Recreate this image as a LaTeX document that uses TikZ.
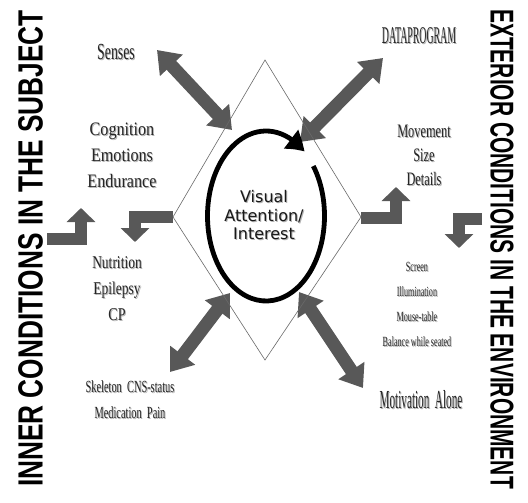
\documentclass[tikz,border=0pt]{standalone}
\usepackage{fontspec}
\setmainfont{Liberation Serif}
\newfontfamily\vsans{DejaVu Sans}
\newfontfamily\asans{Liberation Sans}
\usetikzlibrary{arrows.meta,bending}
\definecolor{arrgray}{RGB}{88,88,88}
\definecolor{linegray}{RGB}{105,105,105}
\newcommand\shd[1]{\leavevmode\rlap{\kern1pt\raisebox{-1pt}{\textcolor{black!30}{#1}}}#1}
\newcommand\lab[2]{\shd{\scalebox{#1}[1]{#2}}}
\tikzset{
  blockarr/.style={line width=13pt, draw=arrgray,
    {Triangle[length=21pt,width=30pt]}-{Triangle[length=21pt,width=30pt]}},
  elbowarr/.style={line width=12pt, draw=arrgray, line join=miter,
    -{Triangle[length=14pt,width=28pt]}},
  lbl/.style={align=center, inner sep=0pt, text=black!85},
  vlabel/.style={inner sep=0pt, font=\asans, text=black}
}
\begin{document}
\begin{tikzpicture}[x=1pt,y=-1pt]
\fill[white] (0,0) rectangle (528,503);
\useasboundingbox (0,0) rectangle (528,503);

% coordinates
\coordinate (dtop) at (265,60);
\coordinate (dleft) at (173,217);
\coordinate (dright) at (361,217);
\coordinate (dbot) at (265,360);
\coordinate (ec) at (266,216);

\coordinate (senA) at (157,50);  \coordinate (senB) at (232,130);
\coordinate (datA) at (383,58);  \coordinate (datB) at (300,142);
\coordinate (llA) at (170,372);  \coordinate (llB) at (230,293);
\coordinate (lrA) at (363,388);  \coordinate (lrB) at (299,292);

\coordinate (flS) at (47,239);   \coordinate (flT) at (81,208);
\coordinate (liT) at (135,242);
\coordinate (riT) at (396,187);
\coordinate (frS) at (482,219);  \coordinate (frT) at (459,248);

% block arrows
\draw[blockarr] (senA) -- (senB);
\draw[blockarr] (datA) -- (datB);
\draw[blockarr] (llA) -- (llB);
\draw[blockarr] (lrA) -- (lrB);

% elbow arrows
\draw[elbowarr] (flS) -| (flT);
\draw[elbowarr] (dleft) -| (liT);
\draw[elbowarr] ([yshift=-1pt]dright) -| (riT);
\draw[elbowarr] (frS) -| (frT);

% diamond
\draw[linegray, line width=0.6pt] (dtop) -- (dright) -- (dbot) -- (dleft) -- cycle;

% circular arrow
\draw[line width=4.8pt, -{Triangle[length=19pt,width=22pt,bend]}]
  (ec) ++(-36:58.5 and 85) arc[start angle=-36, end angle=311, x radius=58.5, y radius=85];

\node[align=center, inner sep=0pt, font=\vsans\fontsize{16}{18.5}\selectfont, text=black!90] (vis) at (264,216)
  {\shd{Visual}\\\shd{Attention/}\\\shd{Interest}};

% labels
\node[lbl, font=\fontsize{23}{26}\selectfont] (senses) at (116,52) {\lab{0.6}{Senses}};
\node[lbl, font=\fontsize{24}{26}\selectfont] (data) at (419,36) {\lab{0.41}{DATAPROGRAM}};
\node[lbl, font=\fontsize{19}{26}\selectfont] (cog) at (122,156)
  {\lab{0.85}{Cognition}\\\lab{0.85}{Emotions}\\\lab{0.85}{Endurance}};
\node[lbl, font=\fontsize{19}{24}\selectfont] (mov) at (424,156)
  {\lab{0.65}{Movement}\\\lab{0.65}{Size}\\\lab{0.65}{Details}};
\node[lbl, font=\fontsize{18}{26}\selectfont] (nut) at (117,289)
  {\lab{0.75}{Nutrition}\\\lab{0.75}{Epilepsy}\\\lab{0.78}{CP}};
\node[lbl, font=\fontsize{17}{26}\selectfont] (skel) at (130,400)
  {\lab{0.61}{Skeleton\ \ CNS-status}\\\lab{0.61}{Medication\ \ Pain}};
\node[lbl, font=\fontsize{14}{25}\selectfont] (scr) at (417,305)
  {\lab{0.58}{Screen}\\\lab{0.58}{Illumination}\\\lab{0.58}{Mouse-table}\\\lab{0.58}{Balance while seated}};
\node[lbl, font=\fontsize{26}{28}\selectfont] (mot) at (421,400) {\lab{0.43}{Motivation\ \ Alone}};

% vertical titles
\node[vlabel, rotate=90, font=\asans\bfseries\fontsize{35}{35}\selectfont] (inner) at (30.5,248.5)
  {\scalebox{0.75}[1]{INNER CONDITIONS IN THE SUBJECT}};
\node[vlabel, rotate=-90, font=\asans\bfseries\fontsize{33}{33}\selectfont] (exterior) at (502,249)
  {\scalebox{0.635}[1]{EXTERIOR CONDITIONS IN THE ENVIRONMENT}};
\end{tikzpicture}
\end{document}
